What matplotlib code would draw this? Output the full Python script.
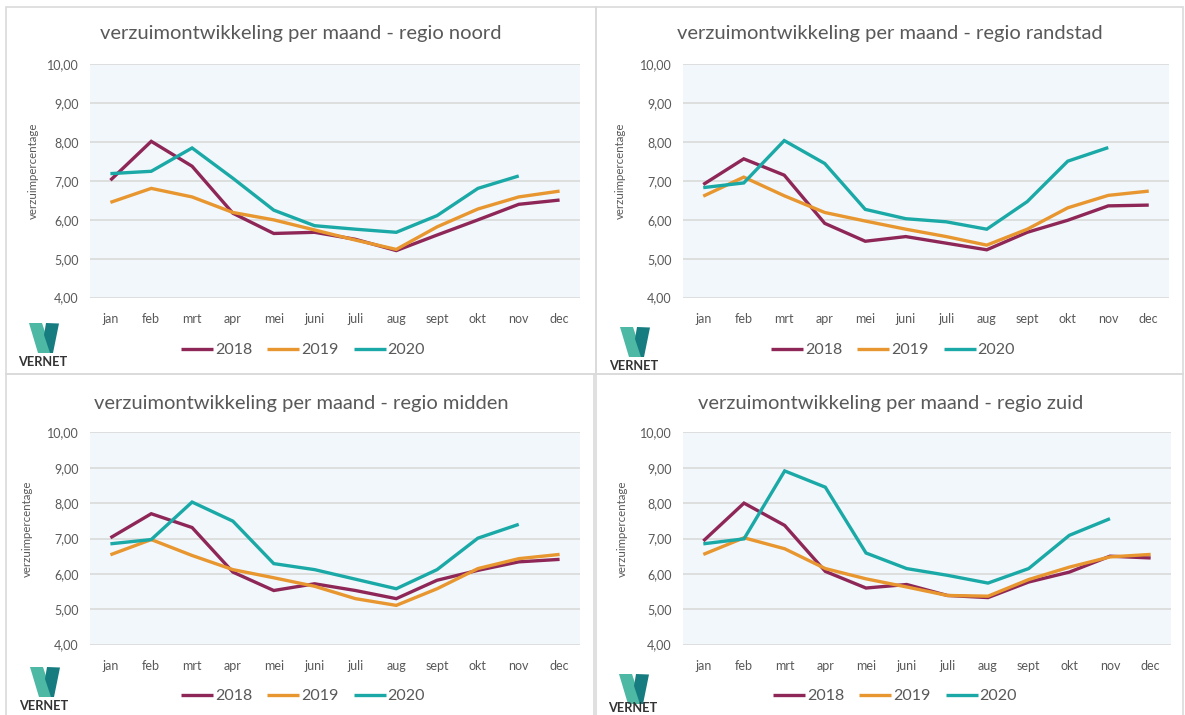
import matplotlib
matplotlib.use("Agg")
import matplotlib.pyplot as plt
from matplotlib.patches import Polygon, Rectangle
from matplotlib.ticker import FixedLocator, FuncFormatter

# ---------------- data ----------------
months = ["jan", "feb", "mrt", "apr", "mei", "juni", "juli", "aug", "sept", "okt", "nov", "dec"]
years = ["2018", "2019", "2020"]
yticks = [4, 5, 6, 7, 8, 9, 10]

noord_2018 = [7.02, 8.02, 7.38, 6.17, 5.65, 5.68, 5.50, 5.21, 5.61, 6.00, 6.40, 6.51]
noord_2019 = [6.45, 6.81, 6.59, 6.19, 6.00, 5.74, 5.48, 5.24, 5.82, 6.28, 6.59, 6.74]
noord_2020 = [7.19, 7.25, 7.85, 7.07, 6.25, 5.85, 5.76, 5.68, 6.11, 6.81, 7.13]

randstad_2018 = [6.91, 7.57, 7.15, 5.91, 5.45, 5.57, 5.40, 5.23, 5.68, 5.99, 6.36, 6.38]
randstad_2019 = [6.61, 7.10, 6.62, 6.19, 5.97, 5.76, 5.57, 5.35, 5.76, 6.31, 6.63, 6.74]
randstad_2020 = [6.83, 6.95, 8.04, 7.45, 6.27, 6.03, 5.95, 5.76, 6.47, 7.51, 7.86]

midden_2018 = [7.02, 7.70, 7.31, 6.05, 5.53, 5.72, 5.53, 5.30, 5.82, 6.10, 6.34, 6.41]
midden_2019 = [6.54, 6.97, 6.52, 6.12, 5.89, 5.65, 5.30, 5.11, 5.58, 6.15, 6.43, 6.55]
midden_2020 = [6.85, 6.97, 8.03, 7.49, 6.29, 6.12, 5.85, 5.58, 6.12, 7.01, 7.40]

zuid_2018 = [6.93, 8.00, 7.37, 6.07, 5.60, 5.70, 5.39, 5.33, 5.77, 6.05, 6.50, 6.45]
zuid_2019 = [6.55, 7.02, 6.71, 6.15, 5.86, 5.63, 5.39, 5.37, 5.84, 6.19, 6.48, 6.55]
zuid_2020 = [6.85, 6.99, 8.91, 8.45, 6.59, 6.15, 5.96, 5.74, 6.15, 7.09, 7.56]

titles = ["verzuimontwikkeling per maand - regio noord",
          "verzuimontwikkeling per maand - regio randstad",
          "verzuimontwikkeling per maand - regio midden",
          "verzuimontwikkeling per maand - regio zuid"]

# ---------------- style ----------------
W, H = 1185, 715
plt.rcParams['font.family'] = ['Lato', 'DejaVu Sans']
fig = plt.figure(figsize=(W / 100, H / 100), dpi=100)

colors = ["#8E2757", "#E8962F", "#1AA9A6"]
text_col = "#595959"
bg_col = "#F1F7FA"
grid_col = "#D9D9D9"


def fx(px):
    return px / W


def fy(py):
    return 1 - py / H


# panel borders
border_col = "#DADADA"
for (x0, y0, x1, y1) in [(6, 7, 596, 374), (596, 7, 1183, 374), (6, 374, 596, 716), (594, 374, 1183, 716)]:
    fig.patches.append(Rectangle((fx(x0), fy(y1)), (x1 - x0) / W, (y1 - y0) / H,
                                 transform=fig.transFigure, fill=False,
                                 edgecolor=border_col, linewidth=1.2))


def draw_logo(x0, y0, ty=None):
    light = [(x0, y0), (x0 + 13, y0), (x0 + 23, y0 + 30), (x0 + 9, y0 + 30)]
    dark = [(x0 + 17, y0), (x0 + 30, y0 + 0.5), (x0 + 24, y0 + 30), (x0 + 21, y0 + 30), (x0 + 15, y0 + 12)]
    for pts, c in [(light, "#4DB8A3"), (dark, "#167C80")]:
        fig.patches.append(Polygon([(fx(a), fy(b)) for a, b in pts], closed=True,
                                   transform=fig.transFigure, facecolor=c, edgecolor="none"))
    if ty is None:
        ty = y0 + 39
    fig.text(fx(x0 + 14), fy(ty), "VERNET", ha="center", va="center",
             fontsize=9.2, fontweight="bold", color="#333333")


panels = [
    dict(rect=(90, 64, 580, 298), data=(noord_2018, noord_2019, noord_2020), title=titles[0],
         tx=301, ty=33, ylx=33, logo=(29, 323, None), legx=303, legy=350),
    dict(rect=(683, 64, 1169, 298), data=(randstad_2018, randstad_2019, randstad_2020), title=titles[1],
         tx=890, ty=33, ylx=620, logo=(620, 327, None), legx=893, legy=350),
    dict(rect=(90, 432, 580, 645), data=(midden_2018, midden_2019, midden_2020), title=titles[2],
         tx=301, ty=403, ylx=27, logo=(30, 667, None), legx=303, legy=696),
    dict(rect=(683, 432, 1171, 645), data=(zuid_2018, zuid_2019, zuid_2020), title=titles[3],
         tx=891, ty=403, ylx=622, logo=(619, 674, 708), legx=895, legy=696),
]

x = list(range(len(months)))
for p in panels:
    x0, y0, x1, y1 = p["rect"]
    ax = fig.add_axes([fx(x0), fy(y1), (x1 - x0) / W, (y1 - y0) / H])
    ax.set_facecolor(bg_col)
    ax.set_xlim(-0.5, 11.5)
    ax.set_ylim(3.99, 10.01)
    for s in ax.spines.values():
        s.set_visible(False)
    ax.yaxis.set_major_locator(FixedLocator(yticks))
    ax.yaxis.set_major_formatter(FuncFormatter(lambda v, pos: f"{v:.2f}".replace(".", ",")))
    ax.set_xticks(x)
    ax.set_xticklabels(months)
    ax.tick_params(axis="both", length=0, labelsize=9, labelcolor=text_col)
    ax.tick_params(axis="x", pad=11)
    ax.tick_params(axis="y", pad=8)
    ax.grid(axis="y", color=grid_col, linewidth=1.2)
    ax.set_axisbelow(True)
    handles = []
    for series, c, yr in zip(p["data"], colors, years):
        ln, = ax.plot(x[:len(series)], series, color=c, linewidth=2.4, label=yr,
                      solid_capstyle="butt", solid_joinstyle="miter")
        handles.append(ln)
    fig.text(fx(p["tx"]), fy(p["ty"]), p["title"], ha="center", va="center",
             fontsize=14.5, color=text_col)
    fig.text(fx(p["ylx"]), fy((y0 + y1) / 2 - 10), "verzuimpercentage", rotation=90,
             ha="center", va="center", fontsize=8.3, color=text_col)
    fig.legend(handles=handles, labels=years, loc="center",
               bbox_to_anchor=(fx(p["legx"]), fy(p["legy"])), ncol=3, frameon=False,
               fontsize=11.5, handlelength=2.0, handletextpad=0.12, columnspacing=0.95,
               labelcolor=text_col)
    draw_logo(*p["logo"])

fig.savefig("out.png", dpi=100, facecolor="white")
